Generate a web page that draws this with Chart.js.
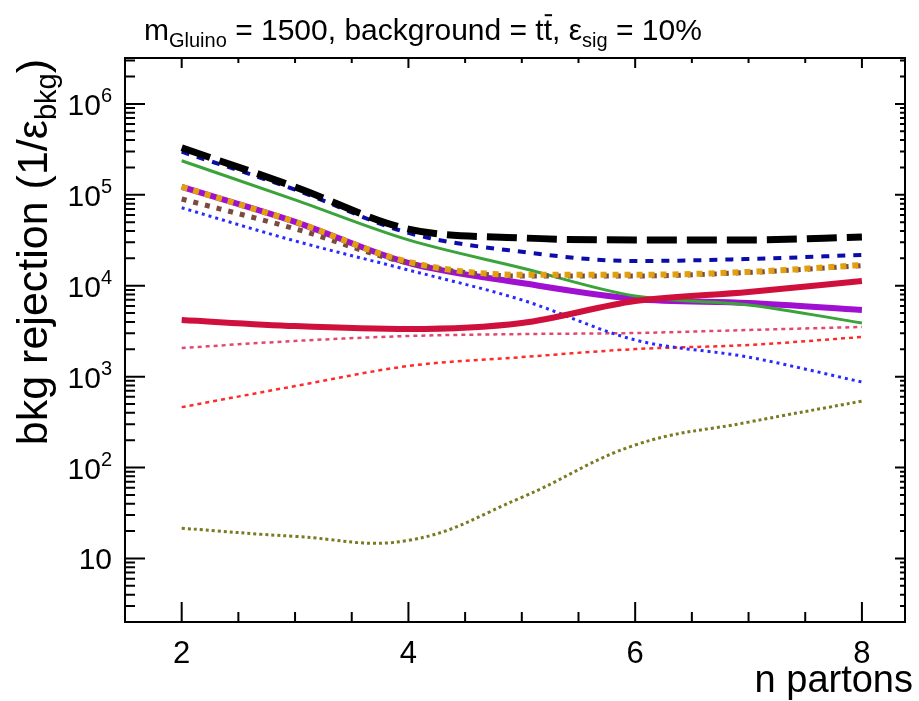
<!DOCTYPE html>
<html>
<head>
<meta charset="utf-8">
<title>bkg rejection vs n partons</title>
<script src="https://cdn.jsdelivr.net/npm/chart.js"></script>
<style>
  html, body { margin: 0; padding: 0; background: #fff; }
  #wrap { width: 919px; height: 701px; }
</style>
</head>
<body>
<div id="wrap"><canvas id="rejChart" width="919" height="701"></canvas></div>
<script>
// x values (number of partons) and one array of rejection values per curve
const nPartons = [2, 3, 4, 5, 6, 7, 8];

const blackLongDash = [3.3e5, 1.22e5, 4.2e4, 3.36e4, 3.19e4, 3.19e4, 3.44e4];
const navyDashed    = [2.98e5, 1.14e5, 3.81e4, 2.36e4, 1.87e4, 1.97e4, 2.18e4];
const greenSolid    = [2.37e5, 8.8e4, 3.19e4, 1.57e4, 7.7e3, 6.15e3, 3.89e3];
const orangeDotted  = [1.22e5, 5.05e4, 1.83e4, 1.32e4, 1.32e4, 1.42e4, 1.69e4];
const brownDotted   = [9.0e4, 4.23e4, 1.78e4, 1.28e4, 1.28e4, 1.40e4, 1.66e4];
const purpleSolid   = [1.22e5, 5.05e4, 1.78e4, 1.07e4, 7.16e3, 6.47e3, 5.41e3];
const blueDotted    = [7.2e4, 3.11e4, 1.49e4, 6.98e3, 2.53e3, 1.64e3, 873];
const crimsonSolid  = [4.2e3, 3.6e3, 3.34e3, 3.89e3, 6.8e3, 8.55e3, 1.13e4];
const pinkDotted    = [2.07e3, 2.47e3, 2.8e3, 2.94e3, 3.02e3, 3.26e3, 3.52e3];
const redDotted     = [462, 787, 1310, 1640, 2010, 2230, 2730];
const oliveDotted   = [21.5, 17.5, 15.8, 47, 177, 316, 538];

// axis ticks
const xMajorTicks = [2, 4, 6, 8];
const xTickLabels = ['2', '4', '6', '8'];
const yDecades = [1, 2, 3, 4, 5, 6];
const yTickLabels = ['10', '10', '10', '10', '10', '10'];
const yTickExps = ['', '2', '3', '4', '5', '6'];

const FONT = '"Liberation Sans", Arial, Helvetica, sans-serif';

function pts(values) {
  return nPartons.map((n, i) => ({ x: n, y: values[i] }));
}

function curve(values, color, width, dash, smooth) {
  const ds = {
    data: pts(values),
    borderColor: color,
    borderWidth: width,
    borderDash: dash || [],
    fill: false,
    pointRadius: 0
  };
  if (smooth) {
    ds.tension = 0.4;
  } else {
    ds.cubicInterpolationMode = 'monotone';
  }
  return ds;
}

// first dataset is drawn on top
const datasets = [
  curve(blackLongDash, '#000000', 7, [30, 10]),
  curve(navyDashed, '#0c0ca8', 4, [8, 8]),
  curve(orangeDotted, '#e0a010', 6, [6, 6]),
  curve(brownDotted, '#7a4a40', 5, [5, 7]),
  curve(crimsonSolid, '#d0103c', 6),
  curve(greenSolid, '#3aa33a', 3),
  curve(purpleSolid, '#a010d0', 6),
  curve(blueDotted, '#2a2aff', 3, [3, 4]),
  curve(pinkDotted, '#e04870', 2.5, [4, 4]),
  curve(redDotted, '#ff2a2a', 2.5, [4, 4]),
  curve(oliveDotted, '#7a7a20', 3, [3, 3], true)
];

function drawRich(ctx, parts, x, y, align) {
  let total = 0;
  parts.forEach(p => {
    ctx.font = p.size + 'px ' + FONT;
    p.w = ctx.measureText(p.t).width;
    total += p.w;
  });
  let cx = align === 'right' ? x - total : (align === 'center' ? x - total / 2 : x);
  parts.forEach(p => {
    ctx.font = p.size + 'px ' + FONT;
    ctx.fillText(p.t, cx, y + (p.dy || 0));
    if (p.bar) {
      ctx.fillRect(cx + 1, y - p.size * 0.86, p.w - 1, 2);
    }
    cx += p.w;
  });
  return total;
}

const framePlugin = {
  id: 'rootFrame',
  afterDraw(chart) {
    const { ctx, chartArea: a, scales } = chart;
    const xs = scales.x, ys = scales.y;
    ctx.save();
    ctx.fillStyle = '#000';
    ctx.strokeStyle = '#000';

    // frame
    ctx.lineWidth = 2;
    ctx.strokeRect(a.left, a.top, a.right - a.left, a.bottom - a.top);

    // x ticks (bottom long, top short), minor every 0.5
    ctx.lineWidth = 2;
    ctx.beginPath();
    for (let v = 1.5; v <= xs.max + 1e-9; v += 0.5) {
      const px = xs.getPixelForValue(v);
      if (px <= a.left + 1 || px >= a.right - 1) continue;
      const major = xMajorTicks.includes(v);
      ctx.moveTo(px, a.bottom);
      ctx.lineTo(px, a.bottom - (major ? 20 : 10));
      ctx.moveTo(px, a.top);
      ctx.lineTo(px, a.top + (major ? 10 : 5));
    }
    // y ticks on log scale
    for (let d = 0; d <= 6; d++) {
      for (let m = 1; m <= 9; m++) {
        const v = m * Math.pow(10, d);
        if (v < ys.min || v > ys.max) continue;
        const py = ys.getPixelForValue(v);
        const major = m === 1;
        ctx.moveTo(a.left, py);
        ctx.lineTo(a.left + (major ? 20 : 10), py);
        ctx.moveTo(a.right, py);
        ctx.lineTo(a.right - (major ? 10 : 5), py);
      }
    }
    ctx.stroke();

    // x tick labels
    ctx.textBaseline = 'alphabetic';
    xMajorTicks.forEach((v, i) => {
      ctx.font = '31px ' + FONT;
      ctx.textAlign = 'center';
      ctx.fillText(xTickLabels[i], xs.getPixelForValue(v), a.bottom + 41);
    });
    ctx.textAlign = 'left';

    // y tick labels
    yDecades.forEach((d, i) => {
      const py = ys.getPixelForValue(Math.pow(10, d));
      const parts = [{ t: yTickLabels[i], size: 30 }];
      if (yTickExps[i]) parts.push({ t: yTickExps[i], size: 20, dy: -13 });
      drawRich(ctx, parts, 112, py + 11, 'right');
    });

    // x axis title
    drawRich(ctx, [{ t: 'n partons', size: 38 }], 913, 692, 'right');

    // y axis title, rotated
    ctx.save();
    ctx.translate(47, a.top + 1);
    ctx.rotate(-Math.PI / 2);
    drawRich(ctx, [
      { t: 'bkg rejection (1/\u03b5', size: 43 },
      { t: 'bkg', size: 29, dy: 9 },
      { t: ')', size: 43 }
    ], 0, 0, 'right');
    ctx.restore();

    // title
    drawRich(ctx, [
      { t: 'm', size: 30 },
      { t: 'Gluino', size: 20, dy: 7 },
      { t: ' = 1500, background = t', size: 30 },
      { t: 't', size: 30, bar: true },
      { t: ', \u03b5', size: 30 },
      { t: 'sig', size: 20, dy: 7 },
      { t: ' = 10%', size: 30 }
    ], 144, 40, 'left');

    ctx.restore();
  }
};

new Chart(document.getElementById('rejChart').getContext('2d'), {
  type: 'line',
  data: { datasets: datasets },
  options: {
    responsive: false,
    animation: false,
    layout: { padding: { left: 125, right: 14, top: 58, bottom: 79 } },
    plugins: { legend: { display: false }, tooltip: { enabled: false } },
    scales: {
      x: { type: 'linear', min: 1.5, max: 8.38, display: false },
      y: { type: 'logarithmic', min: 2, max: 3.2e6, display: false }
    }
  },
  plugins: [framePlugin]
});
</script>
</body>
</html>
